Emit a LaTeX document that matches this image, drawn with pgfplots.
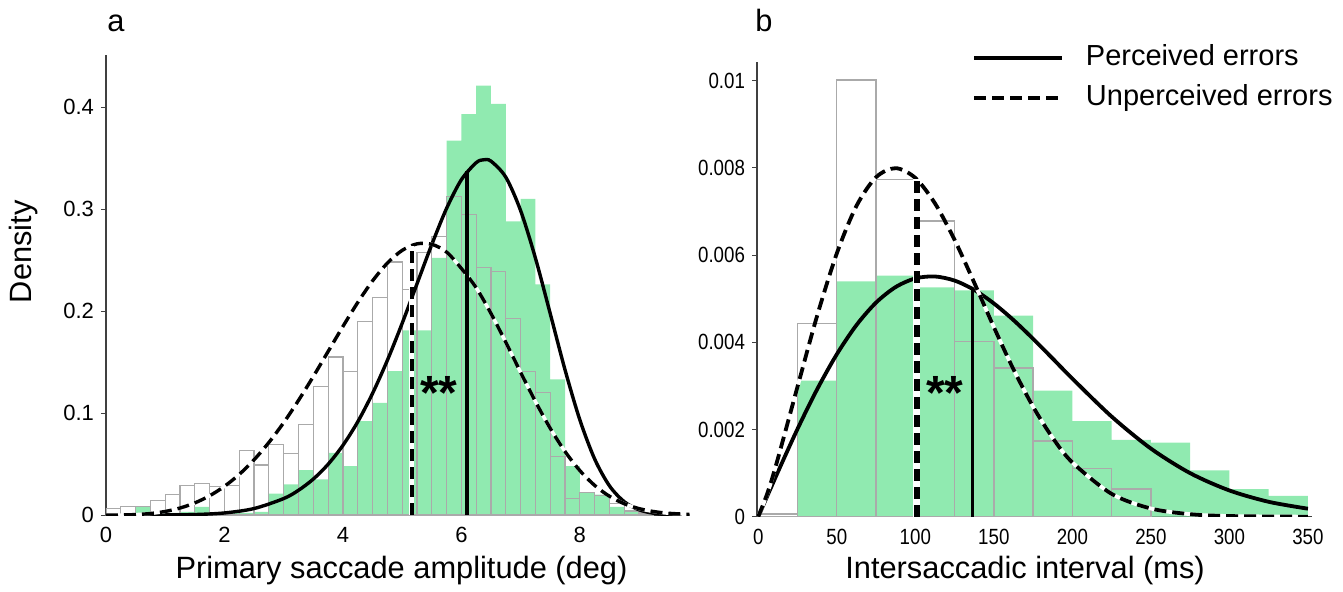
\documentclass[border=0pt]{standalone}
\usepackage{fontspec}
\setmainfont{Liberation Sans}
\usepackage{pgfplots}
\pgfplotsset{compat=1.18}
\definecolor{PercGreen}{RGB}{144,234,176}
\definecolor{BarGray}{RGB}{170,170,170}
\pgfplotsset{
  panel/.style={
    scale only axis,
    axis lines=left,
    axis line style={-, black!75, line width=0.6pt},
    ymin=0,
    tick align=outside,
    major tick length=2.5pt,
    xtick style={draw=none},
    ytick style={black!75, line width=0.5pt},
    tick label style={font=\fontsize{11}{13}\selectfont},
    /pgf/number format/assume math mode=true,
    label style={font=\fontsize{15.4}{18}\selectfont},
  },
  fitline/.style={black, line width=#1, smooth},
  fitdash/.style={black, line width=#1, smooth, dash pattern=on 6pt off 3pt},
  halo/.style={white, line width=#1, smooth, forget plot},
}

\begin{document}
\begin{tikzpicture}
\useasboundingbox (-53pt,-38pt) rectangle (618.5pt,257.5pt);

% ---- panel a
\begin{axis}[panel,
  at={(0pt,0pt)}, anchor=south west,
  width=292pt, height=230pt,
  xmin=0, xmax=9.86, ymax=0.451,
  xtick={0,2,4,6,8}, ytick={0,0.1,0.2,0.3,0.4},
  xlabel={Primary saccade amplitude (deg)},
  ylabel={Density},
  xlabel style={at={(rel axis cs:0.506,-0.137)}, anchor=base},
  ylabel style={at={(rel axis cs:-0.1404,0.572)}, anchor=center},
]
% perceived errors
\addplot[ybar interval, fill=PercGreen, draw=none, forget plot] coordinates {
  (0,0) (0.25,0) (0.5,0.008) (0.75,0.002) (1,0.002) (1.25,0.003) (1.5,0.008)
  (1.75,0.002) (2,0.002) (2.25,0.002) (2.5,0.003) (2.75,0.021) (3,0.030)
  (3.25,0.044) (3.5,0.035) (3.75,0.061) (4,0.048) (4.25,0.092) (4.5,0.110)
  (4.75,0.141) (5,0.181) (5.25,0.181) (5.5,0.252) (5.75,0.367) (6,0.393)
  (6.25,0.421) (6.5,0.403) (6.75,0.288) (7,0.310) (7.25,0.226) (7.5,0.133)
  (7.75,0.048) (8,0.022) (8.25,0.020) (8.5,0.008) (8.75,0.004) (9,0.002) (9.25,0)
};
% unperceived errors
\addplot[ybar interval, fill=none, draw=BarGray, line width=0.6pt, forget plot] coordinates {
  (0,0.006) (0.25,0.008) (0.5,0.008) (0.75,0.014) (1,0.020) (1.25,0.029)
  (1.5,0.031) (1.75,0.028) (2,0.029) (2.25,0.063) (2.5,0.049) (2.75,0.069)
  (3,0.060) (3.25,0.089) (3.5,0.126) (3.75,0.155) (4,0.141) (4.25,0.190)
  (4.5,0.213) (4.75,0.248) (5,0.221) (5.25,0.257) (5.5,0.273) (5.75,0.312)
  (6,0.295) (6.25,0.243) (6.5,0.239) (6.75,0.193) (7,0.141) (7.25,0.120)
  (7.5,0.057) (7.75,0.016) (8,0.022) (8.25,0.019) (8.5,0.011) (8.75,0.004)
  (9,0.002) (9.25,0)
};
% fitted densities
\addplot[fitline=1.7pt] coordinates {
  (0.5,0) (1,0.00006) (1.5,0.00046) (2,0.00201) (2.5,0.00634) (3,0.01613)
  (3.25,0.02423) (3.5,0.03524) (3.75,0.04975) (4,0.06829) (4.25,0.09134)
  (4.5,0.11920) (4.75,0.15158) (5,0.18788) (5.25,0.22653) (5.5,0.26513)
  (5.75,0.30060) (6,0.32875) (6.25,0.34543) (6.375,0.34826) (6.5,0.34693)
  (6.75,0.33124) (7,0.29850) (7.25,0.25197) (7.5,0.19754) (7.75,0.14236)
  (8,0.09333) (8.25,0.05493) (8.5,0.02862) (8.75,0.01303) (9,0.00510)
  (9.25,0.00168) (9.5,0.00046) (9.85,0.00005)
};
\addplot[halo=1.7pt] coordinates {
  (0,0) (0.25,0.00005) (0.5,0.00043) (0.75,0.00146) (1,0.00349) (1.25,0.00685)
  (1.5,0.01187) (1.75,0.01887) (2,0.02812) (2.25,0.03982) (2.5,0.05416)
  (2.75,0.07113) (3,0.09057) (3.25,0.11238) (3.5,0.13581) (3.75,0.16031)
  (4,0.18486) (4.25,0.20834) (4.5,0.22951) (4.75,0.24695) (5,0.25945)
  (5.25,0.26585) (5.5,0.26541) (5.75,0.25783) (6,0.24175) (6.25,0.22281)
  (6.5,0.19759) (6.75,0.16937) (7,0.13995) (7.25,0.11133) (7.5,0.08506)
  (7.75,0.06226) (8,0.04359) (8.25,0.02905) (8.5,0.01840) (8.75,0.01105)
  (9,0.00628) (9.25,0.00336) (9.5,0.00169) (9.85,0.00058)
};
\addplot[fitdash=1.7pt] coordinates {
  (0,0) (0.25,0.00005) (0.5,0.00043) (0.75,0.00146) (1,0.00349) (1.25,0.00685)
  (1.5,0.01187) (1.75,0.01887) (2,0.02812) (2.25,0.03982) (2.5,0.05416)
  (2.75,0.07113) (3,0.09057) (3.25,0.11238) (3.5,0.13581) (3.75,0.16031)
  (4,0.18486) (4.25,0.20834) (4.5,0.22951) (4.75,0.24695) (5,0.25945)
  (5.25,0.26585) (5.5,0.26541) (5.75,0.25783) (6,0.24175) (6.25,0.22281)
  (6.5,0.19759) (6.75,0.16937) (7,0.13995) (7.25,0.11133) (7.5,0.08506)
  (7.75,0.06226) (8,0.04359) (8.25,0.02905) (8.5,0.01840) (8.75,0.01105)
  (9,0.00628) (9.25,0.00336) (9.5,0.00169) (9.85,0.00058)
};
% means
\addplot[black, line width=2pt, forget plot] coordinates {(6.10,0) (6.10,0.337)};
\addplot[white, line width=2.6pt, forget plot] coordinates {(5.16,0) (5.16,0.264)};
\addplot[black, line width=2pt, dash pattern=on 6pt off 3pt, forget plot] coordinates {(5.16,0) (5.16,0.264)};
\node[font=\fontsize{24}{24}\selectfont\bfseries, yshift=-4pt] at (axis cs:5.62,0.127) {**};
\end{axis}

% ---- panel b
\begin{axis}[panel,
  at={(325.5pt,-0.85pt)}, anchor=south west,
  width=277.5pt, height=227.35pt,
  xmin=-0.8, xmax=352.6, ymax=0.010429,
  scaled y ticks=false,
  xtick={0,50,100,150,200,250,300,350},
  xticklabels={\scalebox{0.85}[1]{0},\scalebox{0.85}[1]{50},\scalebox{0.85}[1]{100},
    \scalebox{0.85}[1]{150},\scalebox{0.85}[1]{200},\scalebox{0.85}[1]{250},
    \scalebox{0.85}[1]{300},\scalebox{0.85}[1]{350}},
  ytick={0,0.002,0.004,0.006,0.008,0.01},
  yticklabels={\scalebox{0.85}[1]{0},\scalebox{0.85}[1]{0.002},\scalebox{0.85}[1]{0.004},
    \scalebox{0.85}[1]{0.006},\scalebox{0.85}[1]{0.008},\scalebox{0.85}[1]{0.01}},
  xlabel={Intersaccadic interval (ms)},
  xlabel style={at={(rel axis cs:0.483,-0.1348)}, anchor=base},
  legend style={draw=none, fill=none, at={(rel axis cs:0.387,1.045)}, anchor=north west,
    font=\fontsize{14.5}{17}\selectfont, inner sep=0pt, row sep=4pt,
    nodes={inner sep=1pt, text height=11pt, text depth=3pt}},
  legend cell align=left,
  legend image code/.code={\draw[#1] (0pt,0pt) -- (44pt,0pt); \path (54pt,0pt);},
]
\addplot[ybar interval, fill=PercGreen, draw=none, forget plot] coordinates {
  (0,0) (25,0.00312) (50,0.00540) (75,0.00553) (100,0.00526) (125,0.00519)
  (150,0.00461) (175,0.00289) (200,0.00219) (225,0.00176) (250,0.00170)
  (275,0.00106) (300,0.00063) (325,0.00048) (350,0)
};
\addplot[ybar interval, fill=none, draw=BarGray, line width=0.7pt, forget plot] coordinates {
  (0,0.00006) (25,0.00443) (50,0.01002) (75,0.00774) (100,0.00678) (125,0.00402)
  (150,0.00341) (175,0.00174) (200,0.00110) (225,0.00064) (250,0)
};
\addplot[fitline=1.9pt] coordinates {
  (0,0) (12.5,0.001026) (25,0.002013) (37.5,0.002923) (50,0.003725)
  (62.5,0.004394) (75,0.004911) (87.5,0.005268) (100,0.005466) (112.5,0.005510)
  (125,0.005416) (137.5,0.005203) (150,0.004892) (162.5,0.004510) (175,0.004080)
  (187.5,0.003626) (200,0.003167) (225,0.002297) (250,0.001563) (275,0.000999)
  (300,0.000602) (325,0.000342) (350,0.000184)
};
\addlegendentry{Perceived errors}
\addplot[halo=1.9pt] coordinates {
  (0,0) (6.25,0.000584) (12.5,0.001334) (25,0.002982) (37.5,0.004611)
  (50,0.006038) (62.5,0.007126) (75,0.007787) (87.5,0.007994) (100,0.007770)
  (112.5,0.007188) (125,0.006350) (137.5,0.005369) (150,0.004350) (162.5,0.003380)
  (175,0.002523) (187.5,0.001807) (200,0.001245) (225,0.000524) (250,0.000188)
  (275,0.000058) (300,0.000015) (350,0)
};
\addplot[fitdash=1.9pt] coordinates {
  (0,0) (6.25,0.000584) (12.5,0.001334) (25,0.002982) (37.5,0.004611)
  (50,0.006038) (62.5,0.007126) (75,0.007787) (87.5,0.007994) (100,0.007770)
  (112.5,0.007188) (125,0.006350) (137.5,0.005369) (150,0.004350) (162.5,0.003380)
  (175,0.002523) (187.5,0.001807) (200,0.001245) (225,0.000524) (250,0.000188)
  (275,0.000058) (300,0.000015) (350,0)
};
\addlegendentry{Unperceived errors}
\addplot[black, line width=1.8pt, forget plot] coordinates {(136.5,0) (136.5,0.00524)};
\addplot[white, line width=3.6pt, forget plot] coordinates {(101,0) (101,0.00775)};
\addplot[black, line width=3pt, dash pattern=on 6pt off 3pt, forget plot] coordinates {(101,0) (101,0.00775)};
\node[font=\fontsize{24}{24}\selectfont\bfseries, yshift=-4pt] at (axis cs:118.8,0.00302) {**};
\end{axis}

\node[font=\fontsize{15.4}{18}\selectfont] at (5pt,246pt) {a};
\node[font=\fontsize{15.4}{18}\selectfont] at (329pt,247.5pt) {b};
\end{tikzpicture}
\end{document}
